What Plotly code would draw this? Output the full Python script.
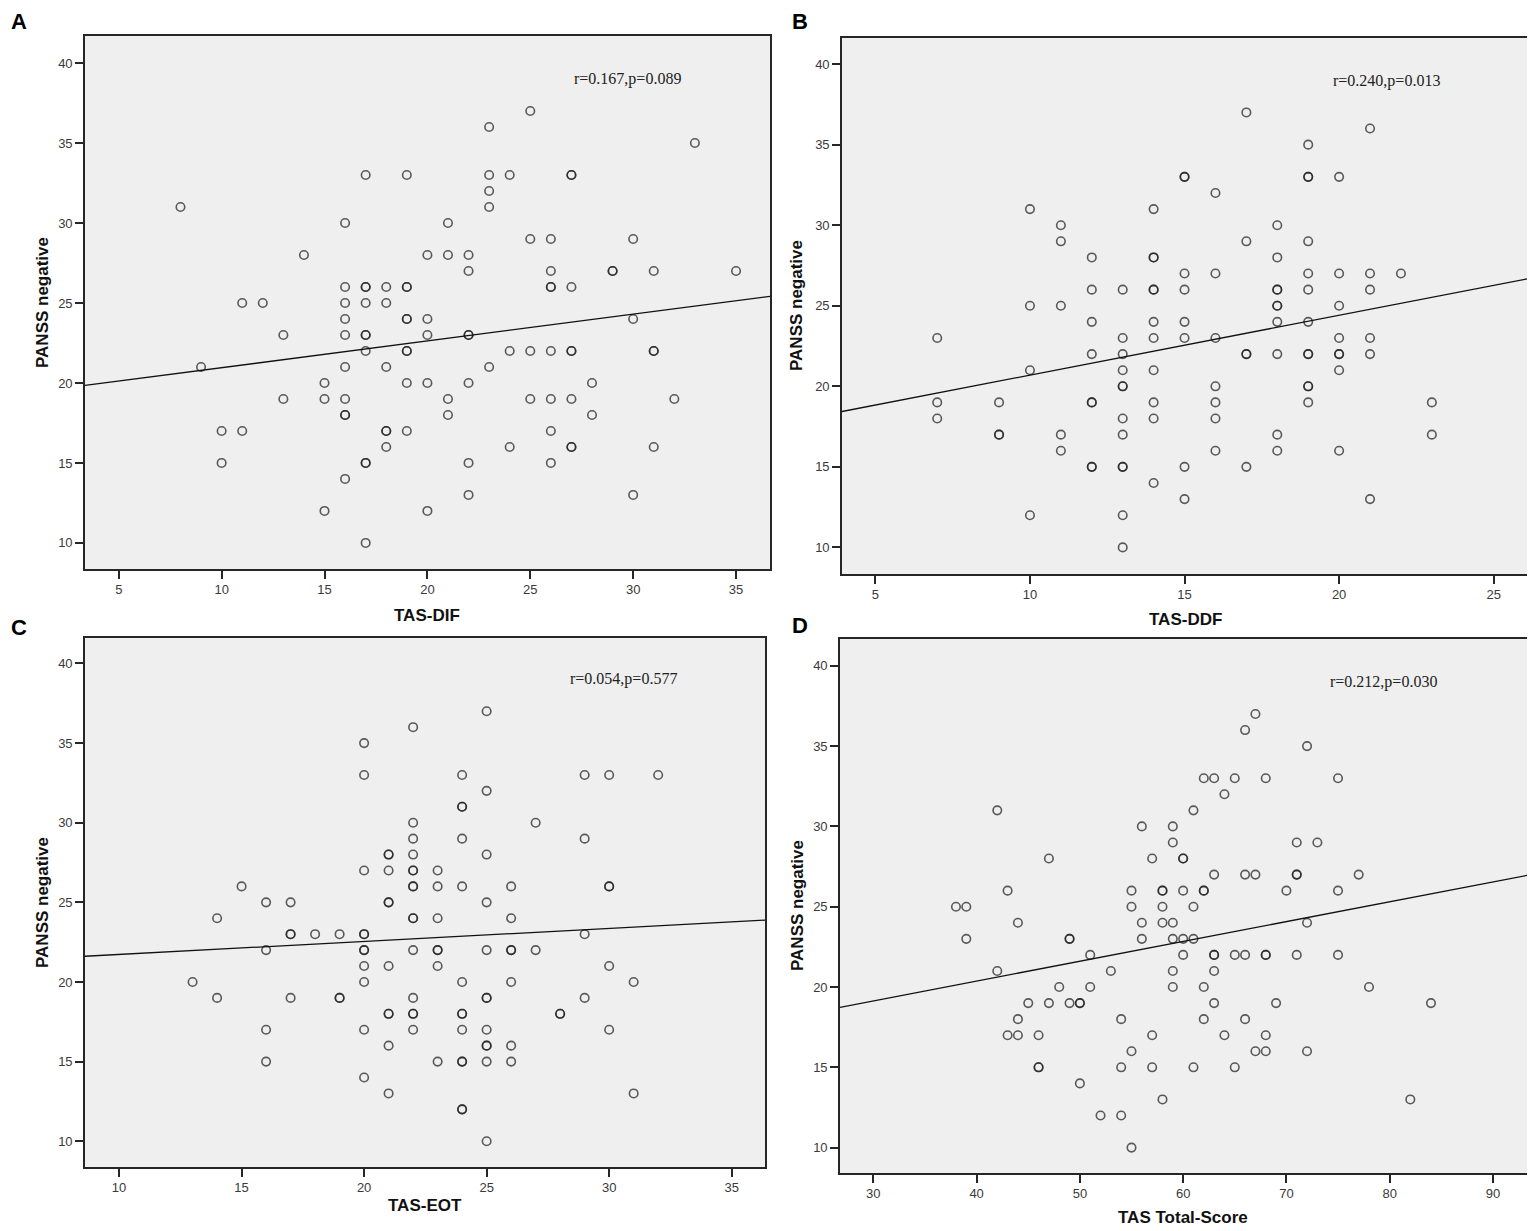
import plotly.graph_objects as go

# ---------------- data ----------------
# Panel A: TAS-DIF vs PANSS negative
a_x = [8, 9, 10, 10, 11, 11, 12, 13, 13, 14, 15, 15, 15,
       16, 16, 16, 16, 16, 16, 16, 16, 16, 16,
       17, 17, 17, 17, 17, 17, 17, 17, 17, 17,
       18, 18, 18, 18, 18, 18,
       19, 19, 19, 19, 19, 19, 19, 19, 19,
       20, 20, 20, 20, 20,
       21, 21, 21, 21,
       22, 22, 22, 22, 22, 22, 22,
       23, 23, 23, 23, 23,
       24, 24, 24,
       25, 25, 25, 25,
       26, 26, 26, 26, 26, 26, 26, 26,
       27, 27, 27, 27, 27, 27, 27, 27,
       28, 28, 29, 29, 30, 30, 30,
       31, 31, 31, 31, 32, 33, 35]
a_y = [31, 21, 17, 15, 25, 17, 25, 23, 19, 28, 20, 19, 12,
       30, 26, 25, 24, 23, 21, 19, 18, 18, 14,
       33, 26, 26, 25, 23, 23, 22, 15, 15, 10,
       26, 25, 21, 17, 17, 16,
       33, 26, 26, 24, 24, 22, 22, 20, 17,
       28, 24, 23, 20, 12,
       30, 28, 19, 18,
       28, 27, 23, 23, 20, 15, 13,
       36, 33, 32, 31, 21,
       33, 22, 16,
       37, 29, 22, 19,
       29, 27, 26, 26, 22, 19, 17, 15,
       33, 33, 26, 22, 22, 19, 16, 16,
       20, 18, 27, 27, 29, 24, 13,
       27, 22, 22, 16, 19, 35, 27]

# Panel B: TAS-DDF vs PANSS negative
b_x = [7, 7, 7, 9, 9, 9, 10, 10, 10, 10, 11, 11, 11, 11, 11,
       12, 12, 12, 12, 12, 12, 12, 12,
       13, 13, 13, 13, 13, 13, 13, 13, 13, 13, 13, 13,
       14, 14, 14, 14, 14, 14, 14, 14, 14, 14, 14,
       15, 15, 15, 15, 15, 15, 15, 15,
       16, 16, 16, 16, 16, 16, 16,
       17, 17, 17, 17, 17,
       18, 18, 18, 18, 18, 18, 18, 18, 18, 18,
       19, 19, 19, 19, 19, 19, 19, 19, 19, 19, 19, 19,
       20, 20, 20, 20, 20, 20, 20, 20,
       21, 21, 21, 21, 21, 21,
       22, 23, 23]
b_y = [23, 19, 18, 19, 17, 17, 31, 25, 21, 12, 30, 29, 25, 17, 16,
       28, 26, 24, 22, 19, 19, 15, 15,
       26, 23, 22, 21, 20, 20, 18, 17, 15, 15, 12, 10,
       31, 28, 28, 26, 26, 24, 23, 21, 19, 18, 14,
       33, 33, 27, 26, 24, 23, 15, 13,
       32, 27, 23, 20, 19, 18, 16,
       37, 29, 22, 22, 15,
       30, 28, 26, 26, 25, 25, 24, 22, 17, 16,
       35, 33, 33, 29, 27, 26, 24, 22, 22, 20, 20, 19,
       33, 27, 25, 23, 22, 22, 21, 16,
       36, 27, 26, 23, 22, 13,
       27, 19, 17]

# Panel C: TAS-EOT vs PANSS negative
c_x = [13, 14, 14, 15, 16, 16, 16, 16, 17, 17, 17, 17, 18, 19, 19, 19,
       20, 20, 20, 20, 20, 20, 20, 20, 20, 20, 20,
       21, 21, 21, 21, 21, 21, 21, 21, 21, 21,
       22, 22, 22, 22, 22, 22, 22, 22, 22, 22, 22, 22, 22, 22, 22,
       23, 23, 23, 23, 23, 23, 23,
       24, 24, 24, 24, 24, 24, 24, 24, 24, 24, 24, 24, 24,
       25, 25, 25, 25, 25, 25, 25, 25, 25, 25, 25, 25,
       26, 26, 26, 26, 26, 26, 26,
       27, 27, 28, 28, 29, 29, 29, 29,
       30, 30, 30, 30, 30, 31, 31, 32]
c_y = [20, 24, 19, 26, 25, 22, 17, 15, 25, 23, 23, 19, 23, 23, 19, 19,
       35, 33, 27, 23, 23, 22, 22, 21, 20, 17, 14,
       28, 28, 27, 25, 25, 21, 18, 18, 16, 13,
       36, 30, 29, 28, 27, 27, 26, 26, 24, 24, 22, 19, 18, 18, 17,
       27, 26, 24, 22, 22, 21, 15,
       33, 31, 31, 29, 26, 20, 18, 18, 17, 15, 15, 12, 12,
       37, 32, 28, 25, 22, 19, 19, 17, 16, 16, 15, 10,
       26, 24, 22, 22, 20, 16, 15,
       30, 22, 18, 18, 33, 29, 23, 19,
       33, 26, 26, 21, 17, 20, 13, 33]

# Panel D: TAS Total-Score vs PANSS negative
d_x = [38, 39, 39, 42, 42, 43, 43, 44, 44, 44, 45, 46, 46, 46, 47, 47, 48,
       49, 49, 49, 50, 50, 50, 51, 51, 52, 53, 54, 54, 54,
       55, 55, 55, 55, 56, 56, 56, 57, 57, 57,
       58, 58, 58, 58, 58, 59, 59, 59, 59, 59, 59,
       60, 60, 60, 60, 60, 61, 61, 61, 61,
       62, 62, 62, 62, 62, 63, 63, 63, 63, 63, 63,
       64, 64, 65, 65, 65, 66, 66, 66, 66, 67, 67, 67,
       68, 68, 68, 68, 68, 69, 70, 71, 71, 71, 71,
       72, 72, 72, 73, 75, 75, 75, 77, 78, 82, 84]
d_y = [25, 25, 23, 31, 21, 26, 17, 24, 18, 17, 19, 17, 15, 15, 28, 19, 20,
       23, 23, 19, 19, 19, 14, 22, 20, 12, 21, 18, 15, 12,
       26, 25, 16, 10, 30, 24, 23, 28, 17, 15,
       26, 26, 25, 24, 13, 30, 29, 24, 23, 21, 20,
       28, 28, 26, 23, 22, 31, 25, 23, 15,
       33, 26, 26, 20, 18, 33, 27, 22, 22, 21, 19,
       32, 17, 33, 22, 15, 36, 27, 22, 18, 37, 27, 16,
       33, 22, 22, 17, 16, 19, 26, 29, 27, 27, 22,
       35, 24, 16, 29, 33, 26, 22, 27, 20, 13, 19]

# Fitted regression lines (intercept, slope)
fit_intercepts = [19.28, 16.98, 20.91, 15.43]
fit_slopes = [0.1674, 0.3714, 0.0817, 0.1235]

x_titles = ["TAS-DIF", "TAS-DDF", "TAS-EOT", "TAS Total-Score"]
y_title = "PANSS negative"
stat_labels = ["r=0.167,p=0.089", "r=0.240,p=0.013", "r=0.054,p=0.577", "r=0.212,p=0.030"]
panel_letters = ["A", "B", "C", "D"]
y_ticks = [10, 15, 20, 25, 30, 35, 40]
x_ticks = [[5, 10, 15, 20, 25, 30, 35],
           [5, 10, 15, 20, 25],
           [10, 15, 20, 25, 30, 35],
           [30, 40, 50, 60, 70, 80, 90]]

# ---------------- layout geometry ----------------
WIN_W, WIN_H = 1535, 1231
OFF = 8  # default page body margin of the html page
W, H = WIN_W - OFF, WIN_H - OFF
# plot frames in window pixels: left, right, top, bottom
frames = [(85, 770, 36, 569), (842, 1528, 38, 574),
          (85, 765, 638, 1167), (840, 1527, 639, 1173)]
x_ranges = [[3.36, 36.65], [3.92, 26.11], [8.61, 36.36], [26.77, 93.3]]
y_ranges = [[8.37, 41.69], [8.35, 41.62], [8.38, 41.60], [8.42, 41.67]]
stat_pos = [(627, 79), (1386, 81), (623, 679), (1383, 682)]
xtitle_pos = [(427, 615), (1185, 619), (425, 1205), (1183, 1217)]
ytitle_pos = [(42, 303), (797, 306), (42, 903), (797, 906)]
# panel letters: top edge of the text box (window pixels)
letter_pos = [(19, 8), (800, 8), (19, 614), (800, 612)]

def px(x):
    return (x - OFF) / W

def py(y):
    return 1 - (y - OFF) / H

xs = [a_x, b_x, c_x, d_x]
ys = [a_y, b_y, c_y, d_y]

fig = go.Figure()
annotations = []
layout_axes = {}
tick_font = dict(family="Liberation Sans, Arial, sans-serif", size=13, color="#3a3a3a")
title_font = dict(family="Liberation Sans, Arial, sans-serif", size=17, color="#111111")

for i in range(4):
    n = "" if i == 0 else str(i + 1)
    xa, ya = "x" + n, "y" + n
    fig.add_trace(go.Scatter(
        x=xs[i], y=ys[i], mode="markers", xaxis=xa, yaxis=ya,
        marker=dict(symbol="circle-open", size=8.5, color="#1e1e1e",
                    opacity=0.72, line=dict(width=1.6, color="#1e1e1e")),
        showlegend=False, hoverinfo="x+y"))
    x0, x1 = x_ranges[i]
    fig.add_trace(go.Scatter(
        x=[x0, x1],
        y=[fit_intercepts[i] + fit_slopes[i] * x0, fit_intercepts[i] + fit_slopes[i] * x1],
        mode="lines", xaxis=xa, yaxis=ya,
        line=dict(color="#111111", width=1.3), showlegend=False, hoverinfo="skip"))

    l, r, t, b = frames[i]
    common = dict(showline=True, mirror=True, linecolor="#262626", linewidth=1.6,
                  ticks="outside", ticklen=8, tickwidth=1.5, tickcolor="#262626",
                  showgrid=False, zeroline=False, tickfont=tick_font)
    layout_axes["xaxis" + n] = dict(common, domain=[px(l), px(r)], range=x_ranges[i],
                                    tickvals=x_ticks[i], anchor=ya)
    layout_axes["yaxis" + n] = dict(common, domain=[py(b), py(t)], range=y_ranges[i],
                                    tickvals=y_ticks, anchor=xa)

    annotations.append(dict(x=px(stat_pos[i][0]), y=py(stat_pos[i][1]), xref="paper", yref="paper",
                            text=stat_labels[i], showarrow=False, xanchor="center", yanchor="middle",
                            font=dict(family="Liberation Serif, Times New Roman, serif", size=16,
                                      color="#222222")))
    annotations.append(dict(x=px(xtitle_pos[i][0]), y=py(xtitle_pos[i][1]), xref="paper", yref="paper",
                            text="<b>" + x_titles[i] + "</b>", showarrow=False,
                            xanchor="center", yanchor="middle", font=title_font))
    annotations.append(dict(x=px(ytitle_pos[i][0]), y=py(ytitle_pos[i][1]), xref="paper", yref="paper",
                            text="<b>" + y_title + "</b>", showarrow=False, textangle=-90,
                            xanchor="center", yanchor="middle", font=title_font))
    annotations.append(dict(x=px(letter_pos[i][0]), y=py(letter_pos[i][1]), xref="paper", yref="paper",
                            text="<b>" + panel_letters[i] + "</b>", showarrow=False,
                            xanchor="center", yanchor="top", borderpad=0,
                            font=dict(family="Liberation Sans, Arial, sans-serif", size=22,
                                      color="#000000")))

fig.update_layout(
    width=W, height=H, margin=dict(l=0, r=0, t=0, b=0),
    paper_bgcolor="#ffffff", plot_bgcolor="#efefef",
    annotations=annotations, **layout_axes)

fig.write_html("out.html")
